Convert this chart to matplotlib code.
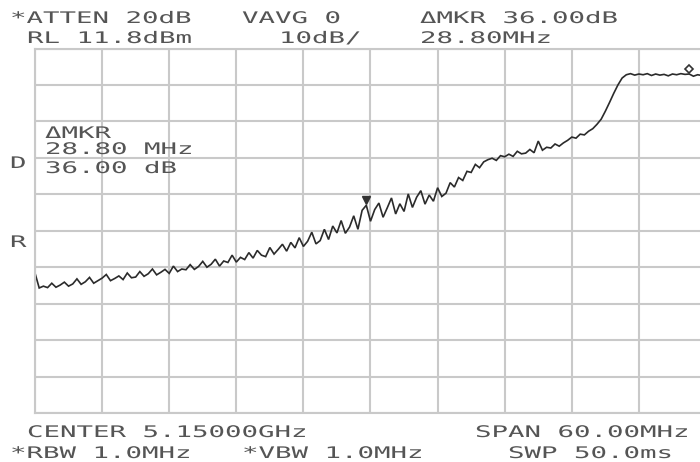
import numpy as np
import matplotlib
matplotlib.use("Agg")
import matplotlib.pyplot as plt
import matplotlib.patheffects as pe
import matplotlib.transforms as mtransforms

# analyzer settings
center_ghz = 5.15
span_mhz = 60.0
ref_level = 11.8   # dBm
db_per_div = 10.0

# trace (dBm), 161 sweep points
level_dbm = [
    -49.8, -53.9, -53.4, -53.8, -52.6, -53.7, -53.1, -52.3, -53.4, -52.8,
    -51.4, -52.9, -52.2, -51.0, -52.6, -51.9, -51.2, -50.2, -51.9, -51.3,
    -50.6, -51.6, -49.8, -51.1, -50.9, -49.4, -50.7, -50.0, -48.7, -50.3,
    -49.6, -48.8, -49.9, -47.9, -49.4, -48.7, -48.9, -47.5, -48.8, -48.0,
    -46.6, -48.2, -47.4, -46.0, -47.9, -46.5, -46.9, -44.9, -46.8, -45.5,
    -46.1, -44.2, -45.7, -43.6, -44.9, -45.3, -42.8, -44.6, -43.3, -41.9,
    -43.8, -41.4, -42.9, -40.1, -42.5, -41.1, -38.6, -41.8, -40.9, -37.8,
    -40.6, -36.9, -38.8, -35.4, -38.9, -37.2, -34.1, -37.8, -32.6, -31.2,
    -35.6, -32.4, -30.6, -34.5, -31.9, -29.2, -33.6, -30.8, -32.9, -28.1,
    -31.8, -29.0, -27.2, -30.9, -28.4, -30.1, -26.4, -28.8, -27.9, -25.0,
    -26.2, -23.6, -24.4, -21.9, -22.2, -20.0, -20.9, -19.3, -18.7, -18.3,
    -18.9, -17.6, -17.9, -17.2, -17.8, -16.4, -17.1, -16.9, -15.9, -16.8,
    -13.6, -16.1, -15.3, -15.5, -14.4, -15.0, -14.1, -13.4, -12.5, -12.8,
    -11.7, -11.9, -10.9, -10.2, -9.0, -7.6, -5.4, -3.0, -0.5, 1.8,
    3.7, 4.6, 4.9, 4.5, 4.8, 4.6, 4.9, 4.4, 4.8, 4.5,
    4.7, 4.3, 4.8, 4.6, 4.9, 4.7, 4.8, 4.2, 4.6, 4.4, 4.5,
]
ref_marker_idx = 79
delta_mhz = 28.8

# screen annotations: (text, x px, baseline y px)
labels = [
    ("*ATTEN 20dB", 10, 23),
    ("VAVG 0", 242, 23),
    ("ΔMKR 36.00dB", 420, 23),
    ("RL 11.8dBm", 27, 43),
    ("10dB/", 279, 43),
    ("28.80MHz", 420, 43),
    ("CENTER 5.15000GHz", 27, 437),
    ("SPAN 60.00MHz", 475, 437),
    ("*RBW 1.0MHz", 10, 458),
    ("*VBW 1.0MHz", 242, 458),
    ("SWP 50.0ms", 508, 458),
    ("D", 10, 168),
    ("R", 10, 247),
    ("ΔMKR", 45, 138),
    ("28.80 MHz", 45, 154),
    ("36.00 dB", 45, 173),
]

W, H = 700, 462
fig = plt.figure(figsize=(W / 100, H / 100), dpi=100)
fig.patch.set_facecolor("white")

# graticule 35..706 px wide, 48.5..413 px tall (right edge is off screen)
ax = fig.add_axes([35 / W, (H - 413) / H, 671 / W, 364.5 / H])
freq = np.linspace(-span_mhz / 2, span_mhz / 2, len(level_dbm))
lv = np.array(level_dbm)

grid_c = "#c9c9c9"
ax.set_xlim(-span_mhz / 2, span_mhz / 2)
ax.set_ylim(ref_level - 10 * db_per_div, ref_level)
ax.set_xticks(np.linspace(-span_mhz / 2, span_mhz / 2, 11))
ax.set_yticks(np.linspace(ref_level - 10 * db_per_div, ref_level, 11))
ax.grid(True, color=grid_c, lw=1.5)
ax.tick_params(length=0, labelbottom=False, labelleft=False)
for s in ax.spines.values():
    s.set_color(grid_c)
    s.set_linewidth(1.5)
ax.set_axisbelow(True)

ax.plot(freq, lv, color="#2b2b2b", lw=1.2, solid_joinstyle="miter")

# markers sit just above the trace
lift = mtransforms.offset_copy(ax.transData, fig=fig, y=5, units="dots")
d_idx = ref_marker_idx + int(round(delta_mhz / (span_mhz / (len(lv) - 1))))
ax.plot(freq[ref_marker_idx], lv[ref_marker_idx], marker="v", ms=6,
        color="#333333", transform=lift, clip_on=False)
ax.plot(freq[d_idx], lv[d_idx], marker="D", ms=4.5, mfc="white",
        mec="#333333", mew=1.2, transform=lift, clip_on=False)


# the analyzer font is a wide cell font: stretch glyphs sideways
class Stretch(pe.AbstractPathEffect):
    def __init__(self, sx):
        super().__init__()
        self.sx = sx

    def draw_path(self, renderer, gc, tpath, affine, rgbFace=None):
        renderer.draw_path(gc, tpath,
                           mtransforms.Affine2D().scale(self.sx, 1) + affine,
                           rgbFace)


fs = 11.5
cell = 16.5
sx = cell / (0.602 * fs * 100 / 72)
for txt, x, y in labels:
    fig.text(x / W, 1 - y / H, txt, fontsize=fs, family="DejaVu Sans Mono",
             color="#555555", ha="left", va="baseline",
             path_effects=[Stretch(sx)])

fig.savefig("out.png", dpi=100)
